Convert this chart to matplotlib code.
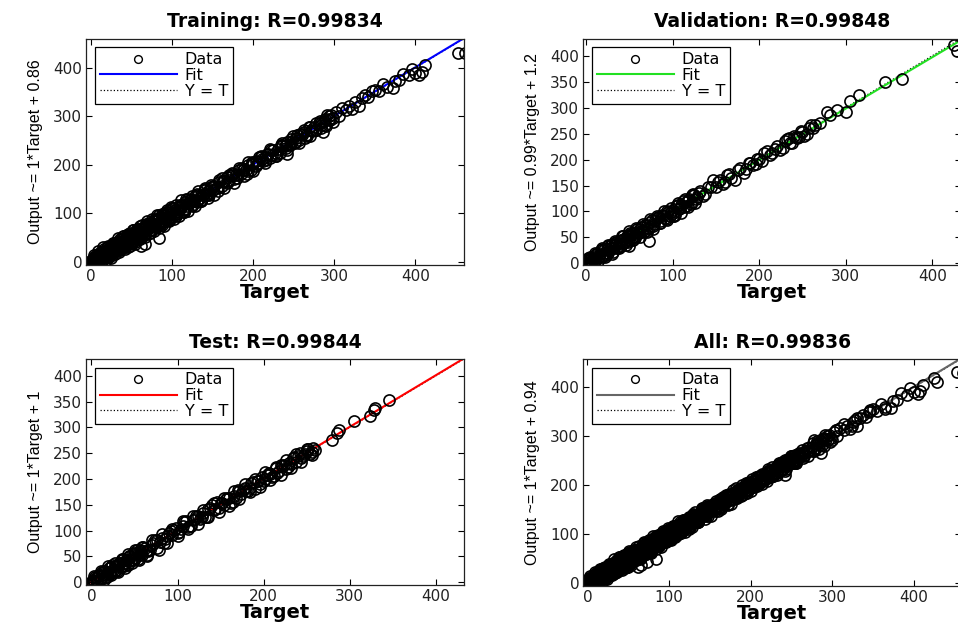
import matplotlib
matplotlib.use('Agg')
import matplotlib.pyplot as plt

# Training set (target, network output)
train_target = [
    0, 0, 1, 1, 2, 2, 3, 3, 4, 4, 5, 5, 6, 7, 7, 8, 9, 10, 10, 11, 12, 13, 14, 15, 16, 17, 18, 19, 20, 20,
    21, 22, 23, 24, 25, 26, 27, 28, 29, 30, 31, 32, 33, 34, 35, 36, 37, 38, 39, 40,
    41, 42, 43, 44, 45, 46, 47, 48, 49, 50, 51, 52, 53, 54, 55, 56, 57, 58, 59, 60,
    21, 23, 25, 27, 29, 31, 33, 35, 37, 39, 41, 43, 45, 47, 49, 51, 53, 55, 57, 59,
    61, 62, 63, 64, 65, 66, 67, 68, 69, 70, 71, 72, 73, 74, 75, 76, 77, 78, 79, 80,
    82, 84, 86, 88, 90, 92, 94, 96, 98, 100, 102, 104, 106, 108, 110, 112, 114, 116, 118, 120,
    122, 124, 126, 128, 130, 132, 134, 136, 138, 140, 142, 144, 146, 148, 150,
    63, 67, 71, 75, 79, 83, 87, 91, 95, 99, 103, 107, 111, 115, 119, 123, 127, 131, 135, 139, 143, 147,
    62, 66, 84,
    152, 155, 158, 161, 164, 167, 170, 173, 176, 179, 182, 185, 188, 191, 194, 197, 200, 203, 206, 209,
    212, 215, 218, 221, 224, 227, 230, 233, 236, 239, 242, 245, 248, 251, 254, 257, 260, 263, 266, 269,
    272, 275, 278, 281, 284, 287, 290, 293, 296, 299,
    157, 163, 169, 175, 181, 187, 193, 199, 205, 211, 217, 223, 229, 235, 241, 247, 253, 259, 265, 271,
    277, 283, 289, 295,
    242, 286,
    302, 306, 310, 314, 318, 322, 326, 330, 334, 338, 342, 346, 350, 355, 360, 365, 372, 375, 380, 385,
    392, 396, 400, 405, 408, 412, 453, 461,
    2, 4, 6, 8, 10, 12, 14, 16, 18, 20, 22, 24, 26, 28, 30, 32, 34, 36, 38, 40,
    42, 44, 46, 48, 50, 52, 54, 56, 58, 60,
    64, 68, 72, 76, 80, 84, 88, 92, 96, 100,
    105, 110, 115, 120, 125, 130, 135, 140, 145, 150,
    156, 162, 168, 174, 180, 186, 192, 198, 204, 210, 216, 222, 228, 234, 240, 246, 252, 258, 264, 270,
    276, 282, 288, 294,
    1, 3, 5, 7, 9, 11, 13, 15, 17, 19, 23, 27, 31, 35, 39, 43, 47, 51, 55, 59,
    63, 67, 71, 75, 79, 83, 87, 91, 95, 99,
    3, 6, 9, 12, 15, 18, 21, 24, 27, 30, 33, 36, 39, 42, 45, 48, 51, 54, 57, 60,
    63, 66, 69, 72, 75, 78, 81, 84, 87, 90, 93, 96, 99, 102, 105, 108, 111, 114, 117, 120,
    124, 128, 132, 136, 140, 144, 148, 152,
    158, 164, 170, 176, 182, 188, 194, 200,
    207, 214, 221, 228, 235, 242, 249, 256, 263, 270, 277, 284, 291, 298,
]
train_output = [
    2, -3, 4, 0, -2, 5, 1, 6, -1, 3, 8, 0, 2, 10, 4, 5, 12, 7, 14, 9, 6, 17, 11, 19, 13, 20, 15, 24, 16, 23,
    26, 18, 31, 22, 28, 19, 33, 28, 24, 39, 28, 36, 25, 36, 42, 32, 38, 48, 33, 43,
    32, 47, 43, 52, 42, 39, 51, 59, 47, 56, 41, 55, 60, 49, 56, 65, 53, 64, 47, 62,
    19, 26, 19, 28, 36, 28, 38, 34, 29, 43, 43, 38, 54, 45, 52, 45, 54, 52, 62, 59,
    65, 56, 71, 62, 70, 57, 70, 75, 65, 71, 81, 67, 75, 66, 81, 76, 74, 87, 73, 84,
    78, 91, 79, 91, 98, 90, 99, 90, 99, 109, 97, 107, 98, 114, 109, 116, 107, 124, 115, 122,
    128, 115, 127, 135, 126, 137, 132, 128, 141, 149, 137, 146, 140, 154, 149,
    60, 72, 70, 78, 77, 89, 83, 93, 90, 103, 103, 104, 118, 109, 121, 128, 125, 124, 139, 140, 139, 150,
    33, 37, 50,
    156, 152, 164, 156, 166, 175, 168, 178, 170, 180, 189, 181, 191, 190, 200, 190, 202, 208, 203, 217,
    207, 216, 222, 215, 231, 225, 233, 225, 241, 239, 248, 241, 250, 248, 261, 252, 261, 267, 260, 277,
    270, 278, 271, 286, 283, 291, 281, 295, 302, 296,
    155, 166, 165, 181, 180, 189, 188, 203, 202, 212, 222, 221, 223, 238, 240, 243, 255, 264, 262, 272,
    272, 286, 295, 293,
    222, 267,
    308, 300, 318, 312, 322, 316, 330, 322, 338, 344, 340, 352, 355, 352, 366, 360, 358, 372, 375, 388,
    385, 398, 390, 386, 392, 405, 431, 430,
    -4, 11, -2, 17, 0, 20, 5, 27, 11, 30, 10, 33, 15, 40, 22, 42, 21, 47, 29, 53,
    32, 56, 32, 57, 39, 65, 42, 66, 49, 74,
    54, 79, 60, 85, 72, 96, 77, 102, 87, 111,
    95, 118, 103, 129, 118, 141, 126, 150, 137, 157,
    147, 172, 162, 183, 172, 193, 182, 206, 197, 219, 210, 230, 219, 241, 234, 254, 245, 264, 256, 277,
    271, 291, 282, 301,
    5, -1, 11, 2, 16, 5, 21, 8, 22, 11, 32, 21, 38, 26, 47, 36, 57, 43, 64, 49,
    71, 58, 78, 67, 89, 76, 96, 85, 103, 90,
    15, -3, 23, 0, 30, 4, 34, 9, 39, 17, 49, 24, 53, 27, 58, 34, 66, 38, 69, 47,
    77, 51, 85, 60, 88, 64, 96, 71, 99, 74, 107, 84, 114, 89, 117, 94, 127, 102, 130, 105,
    136, 115, 146, 125, 153, 132, 159, 138,
    169, 152, 180, 163, 194, 178, 205, 188,
    217, 203, 233, 219, 246, 230, 259, 246, 272, 259, 287, 275, 302, 288,
]

# Validation set
val_target = [
    0, 1, 2, 3, 4, 5, 6, 8, 10, 12, 14, 16, 18, 20, 22, 24, 26, 28, 30, 32, 34, 36, 38, 40,
    42, 44, 46, 48, 50, 52, 54, 56, 58, 60,
    62, 65, 68, 71, 74, 77, 80, 83, 86, 89, 92, 95, 98, 101, 104, 107, 110, 113, 116, 119, 122, 125, 128,
    73, 50, 100,
    132, 138, 144, 147, 150, 155, 160, 165, 172, 178, 185, 190, 196, 200, 206, 212, 218, 224, 230, 234,
    238, 242, 246, 250, 255, 260, 265,
    270, 278, 282, 290, 300, 305, 315, 345, 365, 425, 428,
    1, 3, 5, 7, 9, 11, 13, 15, 17, 19, 21, 23, 25, 27, 29, 31, 33, 35, 37, 39,
    41, 43, 45, 47, 49, 51, 53, 55, 57, 59, 61,
    64, 67, 70, 73, 76, 79, 82, 85, 88, 91, 94, 97, 100, 103, 106, 109, 112, 115, 118, 121,
    124, 127, 130,
    135, 141, 152, 158, 163, 168, 175, 182, 188, 193, 198, 203, 209, 215, 221, 227, 232, 236, 240, 244,
    248, 252, 257, 262,
    2, 6, 10, 14, 18, 22, 26, 30, 34, 38, 42, 46, 50, 54, 58, 62, 66, 70, 74, 78,
    82, 86, 90, 94, 98, 102, 106, 110, 114, 118, 122, 126,
]
val_output = [
    2, -1, 6, 2, 7, 2, 11, 9, 6, 18, 12, 19, 13, 27, 21, 28, 20, 30, 38, 29, 39, 29, 39, 46,
    38, 47, 44, 55, 45, 54, 58, 50, 61, 59,
    66, 62, 74, 69, 79, 72, 83, 90, 82, 91, 86, 99, 99, 98, 110, 105, 113, 108, 118, 124, 118, 131, 127,
    43, 33, 92,
    140, 134, 147, 161, 148, 160, 157, 173, 160, 184, 182, 194, 191, 202, 212, 208, 221, 218, 235, 242,
    231, 244, 243, 254, 250, 266, 267,
    270, 292, 285, 296, 292, 312, 325, 350, 356, 420, 410,
    6, -1, 12, 1, 12, 3, 19, 12, 25, 14, 25, 16, 34, 25, 35, 22, 36, 42, 31, 44,
    33, 52, 41, 53, 42, 59, 48, 58, 48, 66, 58,
    70, 60, 74, 68, 84, 76, 88, 77, 93, 87, 101, 91, 103, 94, 112, 107, 120, 110, 122, 114,
    133, 124, 135,
    130, 148, 156, 152, 171, 165, 180, 175, 194, 189, 201, 197, 216, 213, 226, 222, 240, 232, 246, 241,
    255, 246, 261, 260,
    11, 1, 20, 5, 29, 12, 35, 19, 44, 29, 53, 36, 62, 45, 68, 51, 75, 60, 85, 66,
    92, 77, 101, 84, 107, 91, 116, 98, 125, 109, 132, 116,
]

# Test set
test_target = [
    0, 1, 2, 3, 5, 7, 9, 11, 13, 15, 17, 19, 21, 23, 25, 27, 29, 31, 33, 35, 37, 39, 41, 43,
    45, 47, 49, 51, 53, 55, 57, 59,
    62, 66, 70, 74, 78, 82, 86, 90, 94, 98, 102, 106, 110, 114, 118, 122, 126, 130, 134, 138,
    142, 146, 150, 154, 158, 162, 166, 170, 174, 178, 182, 186, 190, 194, 198, 202, 206, 210,
    214, 218, 222, 226, 230, 234, 238, 242, 246, 250, 254, 258,
    64, 72, 80, 88, 96, 104, 112, 120, 128, 136, 144, 152, 160, 168, 176, 184, 192, 200, 208, 216,
    224, 232, 240, 248, 256,
    65, 280, 285, 288, 305, 324, 328, 330, 346,
    2, 4, 6, 8, 10, 12, 14, 16, 18, 20, 22, 24, 26, 28, 30, 32, 34, 36, 38, 40,
    42, 44, 46, 48, 50, 52, 54, 56, 58, 60,
    68, 76, 84, 92, 100, 108, 116, 124, 132, 140, 148, 156, 164, 172, 180, 188, 196, 204, 212, 220,
    228, 236, 244, 252, 260,
    3, 7, 11, 15, 19, 23, 27, 31, 35, 39, 43, 47, 51, 55, 59,
    64, 70, 76, 82, 88, 94, 100, 106, 112, 118, 124, 130, 136, 142, 148, 154, 160, 166, 172, 178,
    184, 190, 196, 202, 208, 214, 220, 226, 232, 238, 244, 250, 256,
]
test_output = [
    1, -2, 5, 2, 9, 5, 14, 7, 15, 21, 14, 20, 16, 30, 23, 31, 23, 34, 38, 31, 45, 38, 43, 36,
    51, 44, 53, 46, 62, 53, 58, 53,
    67, 60, 73, 82, 63, 86, 83, 96, 92, 105, 98, 109, 119, 109, 120, 128, 123, 134, 127, 143,
    140, 156, 153, 150, 164, 154, 168, 179, 171, 182, 177, 193, 180, 197, 204, 200, 211, 204,
    222, 215, 226, 219, 232, 240, 233, 251, 244, 254, 248, 261,
    62, 76, 77, 90, 101, 103, 108, 123, 126, 142, 141, 153, 164, 163, 178, 183, 197, 197, 210, 212,
    227, 230, 244, 249, 253,
    50, 276, 290, 295, 312, 322, 334, 338, 353,
    -3, 10, -1, 12, 7, 20, 8, 21, 10, 27, 18, 33, 20, 31, 21, 38, 29, 44, 31, 44,
    34, 50, 43, 57, 44, 57, 45, 63, 54, 68,
    62, 81, 76, 99, 95, 116, 109, 128, 126, 149, 144, 162, 156, 177, 177, 195, 190, 208, 205, 228,
    223, 242, 240, 259, 257,
    12, 3, 22, 5, 31, 14, 38, 19, 45, 28, 55, 37, 62, 43, 69,
    53, 82, 66, 93, 76, 104, 89, 118, 103, 129, 112, 140, 126, 154, 137, 163, 148, 177, 162, 190,
    175, 200, 185, 214, 198, 223, 208, 237, 222, 248, 233, 259, 246,
]

# "All" is the union of the three sets
all_target = train_target + val_target + test_target
all_output = train_output + val_output + test_output

titles = ['Training: R=0.99834', 'Validation: R=0.99848', 'Test: R=0.99844', 'All: R=0.99836']
fit_slope = [1, 0.99, 1, 1]
fit_intercept = [0.86, 1.2, 1, 0.94]
ylabels = ['Output ~= 1*Target + 0.86', 'Output ~= 0.99*Target + 1.2',
           'Output ~= 1*Target + 1', 'Output ~= 1*Target + 0.94']

panels = [
    (train_target, train_output),
    (val_target, val_output),
    (test_target, test_output),
    (all_target, all_output),
]
fit_colors = ['#0000ff', '#22e022', '#ff0000', '#666666']
limits = [(-6, 460), (-3, 433), (-6, 433), (-5, 458)]
yticks = [range(0, 401, 100), range(0, 401, 50), range(0, 401, 50), range(0, 401, 100)]
positions = [
    [0.0901, 0.574, 0.3942, 0.364],
    [0.6089, 0.574, 0.3942, 0.364],
    [0.0901, 0.059, 0.3942, 0.364],
    [0.6089, 0.058, 0.3942, 0.365],
]

fig = plt.figure(figsize=(9.58, 6.22), dpi=100)

for i, (target, output) in enumerate(panels):
    ax = fig.add_axes(positions[i])
    lo, hi = limits[i]

    ax.plot(target, output, 'o', mfc='none', mec='black', ms=8, mew=1.2,
            label='Data', zorder=2)
    ax.plot([lo, hi], [lo * fit_slope[i] + fit_intercept[i], hi * fit_slope[i] + fit_intercept[i]],
            color=fit_colors[i], lw=1.5, label='Fit', zorder=1.5)
    ax.plot([lo, hi], [lo, hi], ':', color='black', lw=0.9, label='Y = T', zorder=1)

    ax.set_xlim(lo, hi)
    ax.set_ylim(lo, hi)
    ax.set_xticks(range(0, 401, 100))
    ax.set_yticks(yticks[i])
    ax.tick_params(direction='in', top=True, right=True, length=4, width=0.8,
                   labelsize=11, labelcolor='#222222', pad=3)
    for label in ax.get_xticklabels() + ax.get_yticklabels():
        label.set_family('DejaVu Sans')
    for spine in ax.spines.values():
        spine.set_linewidth(0.9)
        spine.set_color('#222222')

    ax.set_title(titles[i], fontsize=13.5, fontweight='bold', family='DejaVu Sans', pad=8)
    ax.set_xlabel('Target', fontsize=14, fontweight='bold', family='DejaVu Sans', labelpad=-1)
    ax.set_ylabel(ylabels[i], fontsize=11.5, family='Liberation Sans', labelpad=7)

    leg = ax.legend(loc='upper left', fancybox=False, edgecolor='black', framealpha=1,
                    fontsize=11.5, handlelength=4.8, handletextpad=0.5, labelspacing=0.05,
                    borderpad=0.3, borderaxespad=0.55, markerscale=0.7)
    leg.get_frame().set_linewidth(0.9)
    for h in leg.legend_handles:
        if h.get_marker() == 'o':
            h.set_markeredgewidth(1.0)

fig.savefig('out.png', dpi=100)
